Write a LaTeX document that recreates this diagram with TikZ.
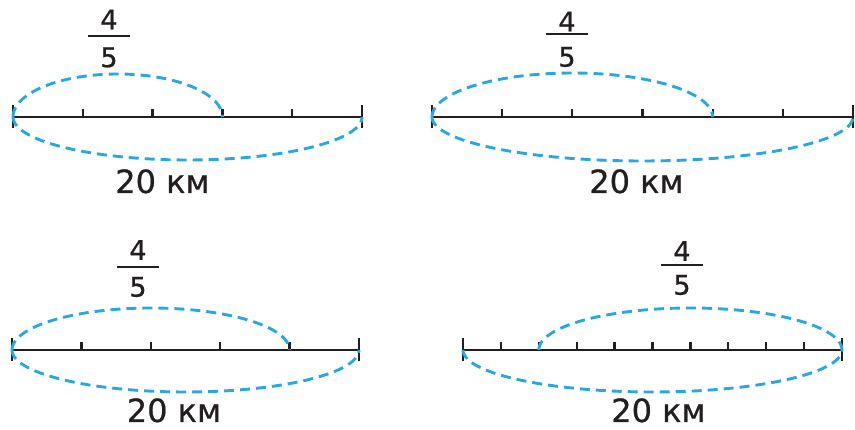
\documentclass[tikz,border=0pt]{standalone}
\usepackage{fontspec}
\setmainfont{DejaVu Sans}
\newfontfamily\labfont{DejaVu Sans}[RawFeature={embolden=0.7}]
\usetikzlibrary{calc}
\definecolor{arcblue}{RGB}{41,168,224}
\definecolor{ink}{RGB}{35,31,32}
\begin{document}
\begin{tikzpicture}[x=1pt,y=1pt,
  axis/.style={draw=ink,line width=2.9pt},
  endtick/.style={draw=ink,line width=2.7pt},
  smalltick/.style={draw=ink,line width=2.3pt},
  arcline/.style={draw=arcblue,line width=2.9pt,dash pattern=on 10pt off 6pt},
  fracdigit/.style={inner sep=0pt,font=\labfont\fontsize{27}{27}\selectfont,text=ink},
  fracbar/.style={draw=ink,line width=2.6pt},
  distlabel/.style={inner sep=0pt,anchor=base,font=\labfont\fontsize{32}{32}\selectfont,text=ink}]
\useasboundingbox (0,0) rectangle (855,430);

% generic panel: x0, x1, y, segments, upper start index, upper end index, name, arc height
\newcommand{\numline}[8]{%
  \pgfmathsetmacro{\st}{(#2-#1)/#4}
  \coordinate (#7a) at (#1,#3);
  \coordinate (#7b) at (#2,#3);
  \draw[axis] (#7a) -- (#7b);
  \draw[endtick] ($(#7a)+(0,-11.5)$) -- ($(#7a)+(0,11.5)$);
  \draw[endtick] ($(#7b)+(0,-11.5)$) -- ($(#7b)+(0,11.5)$);
  \foreach \i in {1,...,\numexpr#4-1\relax}{
    \draw[smalltick] ($(#7a)+(\i*\st,0)$) -- ++(0,8);
  }
  \pgfmathsetmacro{\ua}{#1+#5*\st}
  \pgfmathsetmacro{\ub}{#1+#6*\st}
  \pgfmathsetmacro{\uc}{(\ua+\ub)/2}
  \pgfmathsetmacro{\ur}{(\ub-\ua)/2}
  \pgfmathsetmacro{\lc}{(#1+#2)/2}
  \pgfmathsetmacro{\lr}{(#2-#1)/2}
  \draw[arcline] plot[domain=180:0,samples=60,smooth] ({\uc+\ur*cos(\x)},{#3+#8*sin(\x)});
  \draw[arcline] plot[domain=180:360,samples=60,smooth] ({\lc+\lr*cos(\x)},{#3+#8*sin(\x)});
}

% Panel 1
\numline{13}{362}{313}{5}{0}{3}{p}{43}
\node[fracdigit] (n1) at (109,410.5) {4};
\draw[fracbar] (88,394) -- (130,394);
\node[fracdigit] (d1) at (109,372.5) {5};
\node[distlabel] (l1) at (162.5,237) {20 км};

% Panel 2
\numline{432}{853}{313}{6}{0}{4}{q}{44}
\node[fracdigit] (n2) at (567,408.5) {4};
\draw[fracbar] (546,396) -- (588,396);
\node[fracdigit] (d2) at (567,373) {5};
\node[distlabel] (l2) at (636.5,237) {20 км};

% Panel 3
\numline{12}{359}{80}{5}{0}{4}{r}{42}
\node[fracdigit] (n3) at (138,180) {4};
\draw[fracbar] (117,163) -- (159,163);
\node[fracdigit] (d3) at (138,143) {5};
\node[distlabel] (l3) at (174,8) {20 км};

% Panel 4
\numline{463}{842}{80}{10}{2}{10}{s}{42}
\node[fracdigit] (n4) at (682,179) {4};
\draw[fracbar] (661,165) -- (703,165);
\node[fracdigit] (d4) at (682,145) {5};
\node[distlabel] (l4) at (658.5,8) {20 км};
\end{tikzpicture}
\end{document}
